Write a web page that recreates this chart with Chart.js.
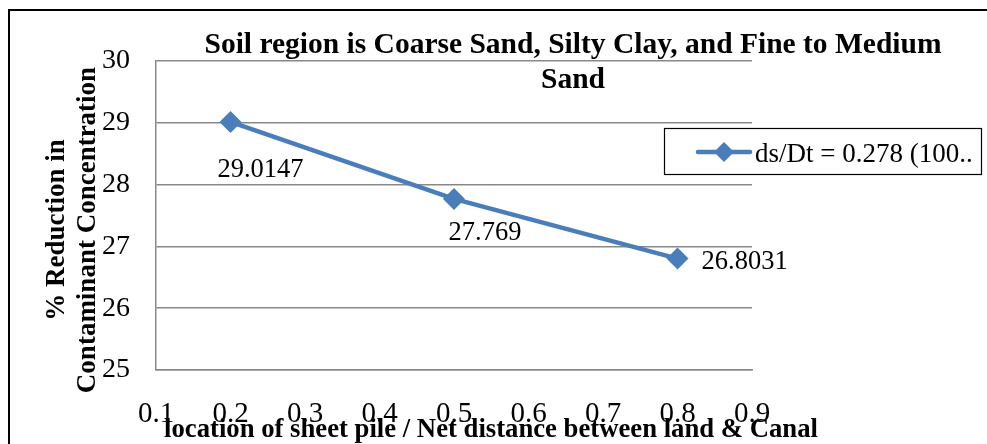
<!DOCTYPE html>
<html>
<head>
<meta charset="utf-8">
<script src="https://cdn.jsdelivr.net/npm/chart.js@4/dist/chart.umd.min.js"></script>
<style>
html,body{margin:0;padding:0;background:#fff;}
#wrap{width:987px;height:444px;position:relative;}
</style>
</head>
<body>
<div id="wrap"><canvas id="c" width="987" height="444"></canvas></div>
<script>
const xValues = [0.2, 0.5, 0.8];
const yValues = [29.0147, 27.769, 26.8031];
const seriesLabel = "ds/Dt = 0.278 (100..";
const titleLines = ["Soil region is Coarse Sand, Silty Clay, and Fine to Medium", "Sand"];
const yTitleLines = ["% Reduction in", "Contaminant Concentration"];
const xTitle = "location of sheet pile / Net distance between land & Canal";
const xTickMin = 0.1, xTickMax = 0.9, xStep = 0.1;
const yTickMin = 25, yTickMax = 30, yStep = 1;

const SERIF = '"Liberation Serif", "Times New Roman", serif';
const BLUE = '#4A7EBB';

const points = xValues.map((x, i) => ({x: x, y: yValues[i]}));

const decor = {
  id: 'decor',
  beforeDraw(chart) {
    const ctx = chart.ctx;
    ctx.save();
    ctx.fillStyle = '#fff';
    ctx.fillRect(0, 0, chart.width, chart.height);
    ctx.restore();
  },
  afterDraw(chart) {
    const ctx = chart.ctx;
    ctx.save();
    // outer border (left + top)
    ctx.strokeStyle = '#000';
    ctx.lineWidth = 2;
    ctx.beginPath();
    ctx.moveTo(9, 450);
    ctx.lineTo(9, 10);
    ctx.lineTo(990, 10);
    ctx.stroke();

    // title
    ctx.fillStyle = '#000';
    ctx.textAlign = 'center';
    ctx.textBaseline = 'alphabetic';
    ctx.font = 'bold 29.5px ' + SERIF;
    ctx.fillText(titleLines[0], 573, 53);
    ctx.fillText(titleLines[1], 573, 88);

    // y title
    ctx.save();
    ctx.translate(0, 230);
    ctx.rotate(-Math.PI / 2);
    ctx.font = 'bold 27px ' + SERIF;
    ctx.textAlign = 'center';
    ctx.fillText(yTitleLines[0], 0, 64);
    ctx.fillText(yTitleLines[1], 0, 95);
    ctx.restore();

    // x title
    ctx.font = 'bold 26.7px ' + SERIF;
    ctx.textAlign = 'center';
    ctx.fillText(xTitle, 491, 437);

    // data labels
    const meta = chart.getDatasetMeta(0);
    ctx.font = '26.5px ' + SERIF;
    const offs = [[30, 55, 'center'], [31, 41, 'center'], [24, 10, 'left']];
    meta.data.forEach((pt, i) => {
      const o = offs[i];
      ctx.textAlign = o[2];
      ctx.fillText(String(yValues[i]), pt.x + o[0], pt.y + o[1]);
    });

    // legend
    ctx.strokeStyle = '#000';
    ctx.lineWidth = 1.2;
    ctx.strokeRect(664.5, 128.5, 317, 46);
    ctx.strokeStyle = BLUE;
    ctx.lineWidth = 4.5;
    ctx.lineCap = 'round';
    ctx.beginPath();
    ctx.moveTo(698, 152);
    ctx.lineTo(750, 152);
    ctx.stroke();
    ctx.fillStyle = BLUE;
    ctx.beginPath();
    ctx.moveTo(724, 142);
    ctx.lineTo(734, 152);
    ctx.lineTo(724, 162);
    ctx.lineTo(714, 152);
    ctx.closePath();
    ctx.fill();
    ctx.fillStyle = '#000';
    ctx.textAlign = 'left';
    ctx.font = '27px ' + SERIF;
    ctx.fillText(seriesLabel, 755, 162);
    ctx.restore();
  }
};

new Chart(document.getElementById('c'), {
  type: 'scatter',
  data: {
    datasets: [{
      label: seriesLabel,
      data: points,
      showLine: true,
      borderColor: BLUE,
      backgroundColor: BLUE,
      borderWidth: 4.5,
      pointStyle: 'rectRot',
      pointRadius: 11,
      pointHoverRadius: 11,
      pointBorderWidth: 0,
      tension: 0
    }]
  },
  options: {
    responsive: false,
    animation: false,
    devicePixelRatio: 1,
    layout: {padding: {left: 0, top: 61, right: 235, bottom: 0}},
    plugins: {legend: {display: false}, title: {display: false}, tooltip: {enabled: false}},
    scales: {
      x: {
        type: 'linear',
        min: xTickMin, max: xTickMax,
        afterFit(s) { s.height = 74; },
        grid: {display: false, drawTicks: false},
        border: {display: true, color: '#888', width: 1.5},
        ticks: {
          stepSize: xStep,
          padding: 27,
          color: '#000',
          font: {family: SERIF, size: 29},
          maxRotation: 0,
          autoSkip: false,
          callback: v => Number(v).toFixed(1)
        }
      },
      y: {
        type: 'linear',
        min: yTickMin, max: yTickMax,
        afterFit(s) { s.width = 156; },
        grid: {color: '#888', lineWidth: 1.5, drawTicks: false},
        border: {display: true, color: '#888', width: 1.5},
        ticks: {
          stepSize: yStep,
          padding: 26,
          color: '#000',
          font: {family: SERIF, size: 28},
          callback: v => String(v)
        }
      }
    }
  },
  plugins: [decor]
});
</script>
</body>
</html>
